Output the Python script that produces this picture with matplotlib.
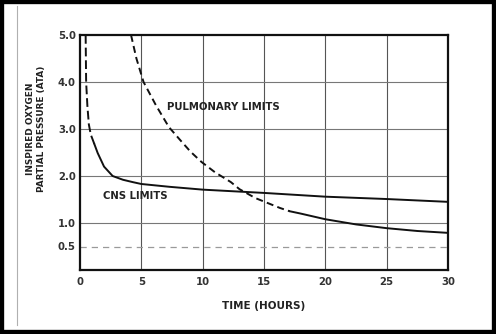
import matplotlib
matplotlib.use("Agg")
import matplotlib.pyplot as plt
from matplotlib.patches import Rectangle
from matplotlib.lines import Line2D

# CNS oxygen tolerance curve (dashed at the very start, solid afterwards)
cns_dash_t = [0.46, 0.5, 0.6, 0.72, 0.88, 1.17]
cns_dash_p = [5.0, 4.0, 3.5, 3.1, 2.88, 2.68]
cns_solid_t = [1.17, 1.44, 1.96, 2.66, 3.5, 4.3, 5.0, 7.3, 10, 15, 20, 25, 30]
cns_solid_p = [2.68, 2.49, 2.2, 2.0, 1.92, 1.87, 1.83, 1.77, 1.71, 1.64, 1.56, 1.51, 1.45]

# pulmonary tolerance curve (dashed until ~17 h, solid afterwards)
pulm_dash_t = [4.16, 4.6, 5.18, 6.2, 7.25, 8.15, 9.0, 9.9, 11.0, 12.3, 13.0, 14.3, 16.3, 17.1]
pulm_dash_p = [5.0, 4.5, 4.0, 3.5, 3.04, 2.77, 2.52, 2.3, 2.08, 1.87, 1.72, 1.53, 1.32, 1.25]
pulm_solid_t = [17.1, 18, 20, 22.5, 25, 27.5, 30]
pulm_solid_p = [1.25, 1.2, 1.08, 0.97, 0.89, 0.83, 0.79]

reference_level = 0.5
x_ticks = [0, 5, 10, 15, 20, 25, 30]
y_ticks = [0.5, 1.0, 2.0, 3.0, 4.0, 5.0]
y_tick_labels = ["0.5", "1.0", "2.0", "3.0", "4.0", "5.0"]

plt.rcParams['font.family'] = ['DejaVu Sans']
txt_col = '#333333'

fig = plt.figure(figsize=(4.96, 3.34), dpi=100)
fig.patch.set_facecolor('white')
ax = fig.add_axes([80 / 496, 64 / 334, 368 / 496, 235 / 334])

ax.set_xlim(0, 30)
ax.set_ylim(0, 5)

# grid
for x in [5, 10, 15, 20, 25]:
    ax.axvline(x, color='#555555', lw=0.8, zorder=1)
for y in [1, 2, 3, 4]:
    ax.axhline(y, color='#777777', lw=0.8, zorder=1)
ax.axhline(reference_level, color='#9a9a9a', lw=0.9, dashes=(5, 4), zorder=1)

ax.plot(cns_dash_t, cns_dash_p, color='#111111', lw=1.4, dashes=(4.5, 2), zorder=3)
ax.plot(cns_solid_t, cns_solid_p, color='#111111', lw=1.4, zorder=3)
ax.plot(pulm_dash_t, pulm_dash_p, color='#111111', lw=1.4, dashes=(3.6, 2.2), zorder=3)
ax.plot(pulm_solid_t, pulm_solid_p, color='#111111', lw=1.4, zorder=3)

ax.text(7.1, 3.47, "PULMONARY LIMITS", fontsize=7.3, color='#222222',
        va='center', ha='left', fontweight='semibold')
ax.text(1.9, 1.57, "CNS LIMITS", fontsize=7.3, color='#222222',
        va='center', ha='left', fontweight='semibold')

ax.set_xticks(x_ticks)
ax.set_xticklabels([str(v) for v in x_ticks])
ax.set_yticks(y_ticks)
ax.set_yticklabels(y_tick_labels)
ax.tick_params(length=0, labelsize=7.3, labelcolor=txt_col)
ax.tick_params(axis='x', pad=5)
ax.tick_params(axis='y', pad=3)
for lab in ax.get_xticklabels() + ax.get_yticklabels():
    lab.set_fontweight('semibold')

for sp in ax.spines.values():
    sp.set_linewidth(1.6)
    sp.set_color('#111111')

ax.set_xlabel("TIME (HOURS)", fontsize=7.5, fontweight='bold', color='#222222',
              labelpad=10)
ax.text(-0.12, 0.60, "INSPIRED OXYGEN\nPARTIAL PRESSURE (ATA)", transform=ax.transAxes,
        rotation=90, ha='center', va='center', fontsize=6.4, fontweight='bold',
        color='#222222', linespacing=1.3)

# scan frame: thin grey margin line and heavy black border
fig.add_artist(Line2D([17 / 496, 17 / 496], [9 / 334, 328 / 334],
                      transform=fig.transFigure, color='#b0b0b0', lw=0.8))
fig.add_artist(Rectangle((0, 0), 1, 1, transform=fig.transFigure, fill=False,
                         edgecolor='black', lw=6))

fig.savefig("out.png", dpi=100)
